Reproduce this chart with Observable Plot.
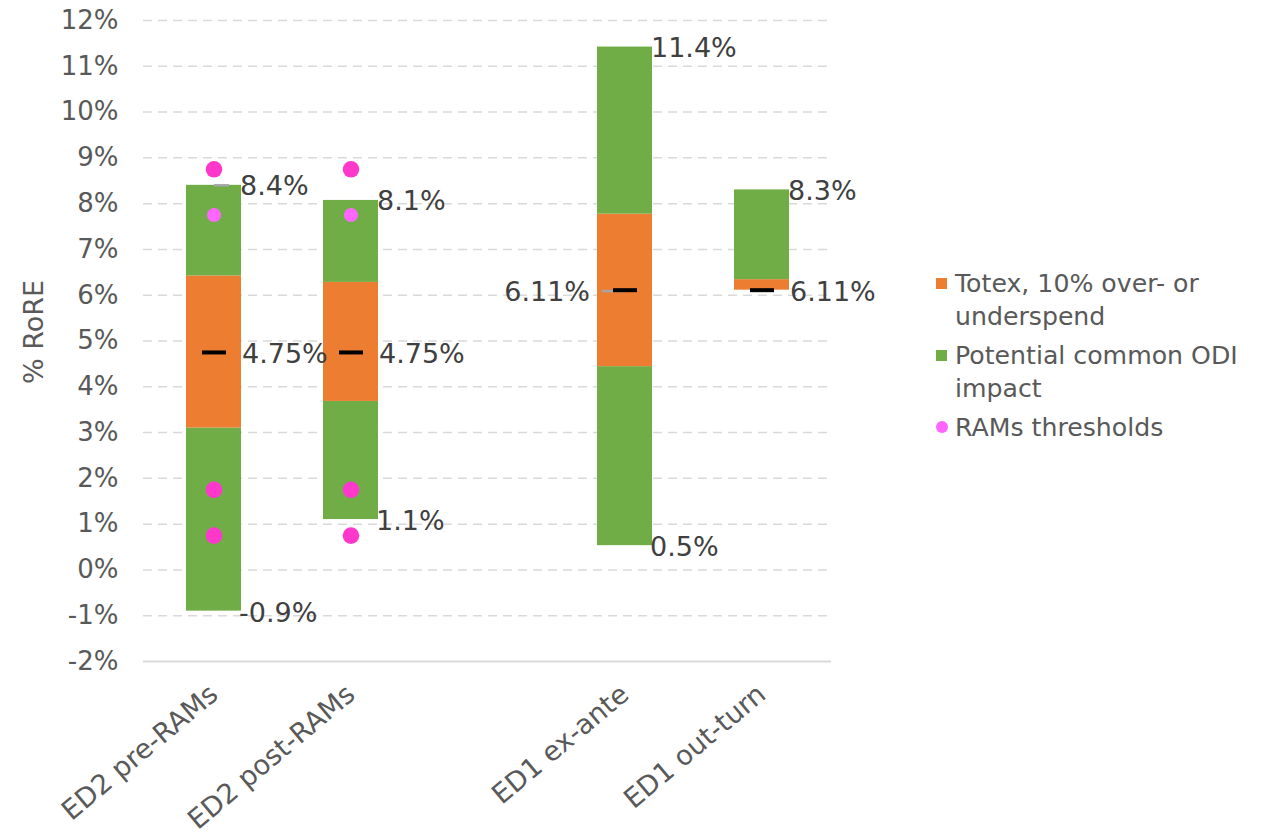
<!DOCTYPE html>
<html><head><meta charset="utf-8">
<script src="https://cdn.jsdelivr.net/npm/d3@7"></script>
<script src="https://cdn.jsdelivr.net/npm/@observablehq/plot@0.6"></script>
<style>
body{margin:0;background:#fff;font-family:"DejaVu Sans",Verdana,sans-serif;}
#wrap{position:relative;width:1271px;height:834px;}
#legend{position:absolute;left:936px;top:267px;color:#595959;font-size:25.2px;line-height:33px;}
.item{display:flex;align-items:flex-start;margin-bottom:6px}
.sw{width:11px;height:11px;margin-top:11px;margin-right:8px;flex:none}
.dotsw{width:12px;height:12px;border-radius:50%;margin-top:10px;margin-right:7px;flex:none}
</style></head><body><div id="wrap"><div id="chart"></div><div id="legend"></div></div>
<script>
// categories (a blank slot separates ED2 from ED1)
const categories = ["ED2 pre-RAMs", "ED2 post-RAMs", "\u00a0", "ED1 ex-ante", "ED1 out-turn"];
const barCategories = ["ED2 pre-RAMs", "ED2 post-RAMs", "ED1 ex-ante", "ED1 out-turn"];
// % RoRE values
const rangeLow  = [-0.9, 1.1, 0.53, 6.11];   // bottom of lower ODI segment
const totexLow  = [3.1, 3.68, 4.44, 6.11];   // bottom of totex segment
const totexHigh = [6.42, 6.28, 7.77, 6.34];  // top of totex segment
const rangeHigh = [8.4, 8.07, 11.42, 8.3];   // top of upper ODI segment
const midpoint  = [4.75, 4.75, 6.11, 6.11];  // base RoRE
// RAMs thresholds
const ramsCategories = ["ED2 pre-RAMs", "ED2 post-RAMs"];
const ramsThresholds = [8.75, 7.75, 1.75, 0.75];
// small grey markers
const greyCategories = ["ED2 pre-RAMs", "ED1 ex-ante"];
const greyValues = [8.4, 6.09];
// axis ticks
const yTicks = [-2, -1, 0, 1, 2, 3, 4, 5, 6, 7, 8, 9, 10, 11, 12];
// legend
const legendLabels = ["Totex, 10% over- or<br>underspend", "Potential common ODI<br>impact", "RAMs thresholds"];

const ORANGE = "#ED7D31", GREEN = "#70AD47", PINK = "#FF38CC", LIGHTPINK = "#FF66FF";

const rows = barCategories.map((c, i) => ({c, low: rangeLow[i], tl: totexLow[i], th: totexHigh[i], high: rangeHigh[i], mid: midpoint[i], i}));
const dots = ramsCategories.flatMap(c => ramsThresholds.map((v, j) => ({c, v, j})));
const greys = greyCategories.map((c, i) => ({c, v: greyValues[i], i}));
const pct1 = v => v.toFixed(1) + "%";
const pct2 = v => v.toFixed(2) + "%";

const chart = Plot.plot({
  width: 900, height: 834,
  marginLeft: 143, marginRight: 69, marginTop: 20, marginBottom: 173,
  style: {fontFamily: "DejaVu Sans, Verdana, sans-serif", fontSize: "26px", color: "#595959", background: "transparent", overflow: "visible"},
  x: {type: "band", domain: categories, paddingInner: 0.6, paddingOuter: 0.3},
  y: {domain: [-2, 12]},
  marks: [
    Plot.gridY(yTicks.filter(d => d > -2), {stroke: "#d9d9d9", strokeOpacity: 1, strokeDasharray: "9,6", strokeWidth: 1.5}),
    Plot.ruleY([-2], {stroke: "#d9d9d9", strokeWidth: 2}),
    Plot.axisY(yTicks, {tickSize: 0, tickPadding: 25, tickFormat: d => d + "%", label: null, fill: "#595959", fontSize: 26}),
    Plot.axisX({tickSize: 0, tickRotate: -40, tickPadding: 29, label: null, fill: "#595959", fontSize: 27.3}),
    Plot.text(["% RoRE"], {frameAnchor: "left", dx: -109, dy: 43, rotate: -90, fontSize: 27, fill: "#595959"}),
    Plot.barY(rows.filter(d => d.tl > d.low), {x: "c", y1: "low", y2: "tl", fill: GREEN}),
    Plot.barY(rows, {x: "c", y1: "tl", y2: "th", fill: ORANGE}),
    Plot.barY(rows, {x: "c", y1: "th", y2: "high", fill: GREEN}),
    Plot.tickY(greys.filter(d => d.i === 0), {x: "c", y: "v", stroke: "#a6a6a6", strokeWidth: 2.5, insetLeft: 28, insetRight: 12}),
    Plot.tickY(greys.filter(d => d.i === 1), {x: "c", y: "v", stroke: "#a6a6a6", strokeWidth: 2.5, insetLeft: 5, insetRight: 28}),
    Plot.tickY(rows, {x: "c", y: "mid", stroke: "#000", strokeWidth: 4, insetLeft: 16, insetRight: 15}),
    Plot.dot(dots.filter(d => d.j !== 1), {x: "c", y: "v", r: 8.3, fill: PINK}),
    Plot.dot(dots.filter(d => d.j === 1), {x: "c", y: "v", r: 7, fill: LIGHTPINK}),
    Plot.text(rows, {x: "c", y: "high", text: d => pct1(d.high), dx: 26, dy: 1, textAnchor: "start", fill: "#404040", fontSize: 27}),
    Plot.text(rows.filter(d => d.low < d.tl), {x: "c", y: "low", text: d => pct1(d.low), dx: 25, dy: 2, textAnchor: "start", fill: "#404040", fontSize: 27}),
    Plot.text(rows.filter(d => d.i !== 2), {x: "c", y: "mid", text: d => pct2(d.mid), dx: 28, dy: 2, textAnchor: "start", fill: "#404040", fontSize: 27}),
    Plot.text(rows.filter(d => d.i === 2), {x: "c", y: "mid", text: d => pct2(d.mid), dx: -35, dy: 2, textAnchor: "end", fill: "#404040", fontSize: 27})
  ]
});
document.getElementById("chart").appendChild(chart);

const swatches = [
  `<div class="sw" style="background:${ORANGE}"></div>`,
  `<div class="sw" style="background:${GREEN}"></div>`,
  `<div class="dotsw" style="background:${LIGHTPINK}"></div>`
];
document.getElementById("legend").innerHTML = legendLabels.map((t, i) =>
  `<div class="item">${swatches[i]}<div>${t}</div></div>`).join("");
</script></body></html>
